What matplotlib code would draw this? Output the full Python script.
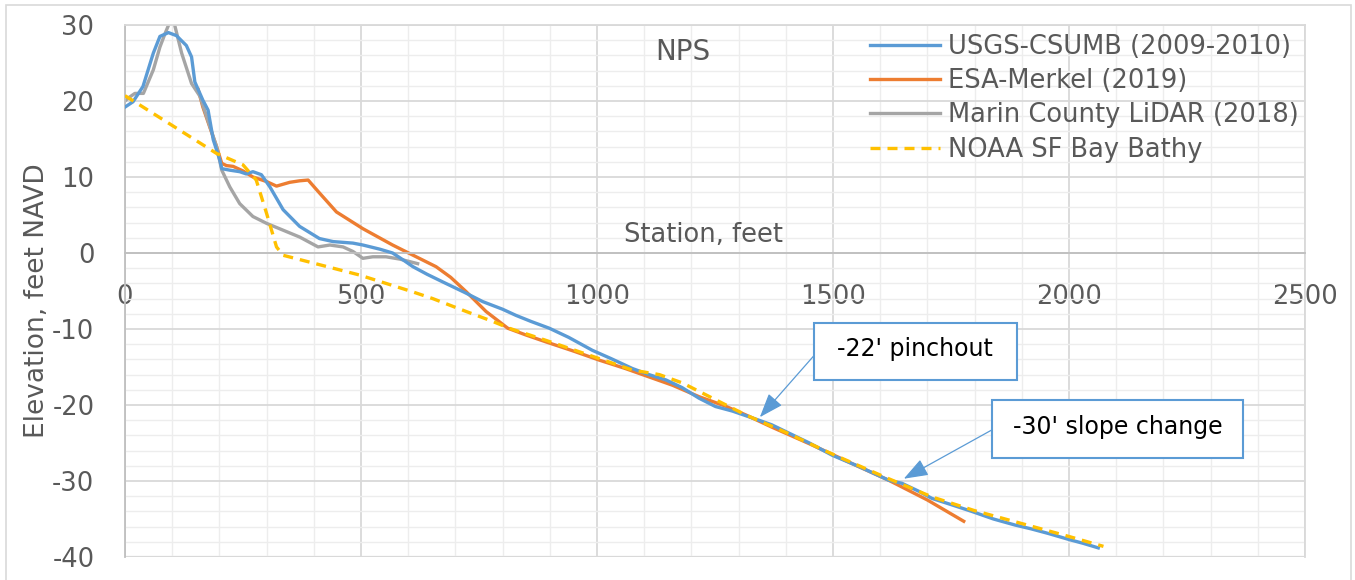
import matplotlib
matplotlib.use("Agg")
import matplotlib.pyplot as plt
from matplotlib.ticker import MultipleLocator
from matplotlib.patches import Rectangle

# ---- profile data (station in feet, elevation in feet NAVD) ----
usgs_x = [0, 17, 38, 60, 74, 92, 109, 130, 141, 148, 165, 176, 187, 201, 205, 222,
          243, 257, 271, 289, 307, 335, 370, 412, 441, 483, 504, 540, 567, 589, 610,
          640, 673, 720, 758, 800, 828, 860, 899, 940, 990, 1030, 1075, 1110, 1146,
          1180, 1216, 1251, 1287, 1315, 1343, 1370, 1400, 1450, 1498, 1555, 1618,
          1646, 1680, 1710, 1750, 1794, 1840, 1886, 1920, 1956, 2000, 2030, 2062]
usgs_y = [19.2, 19.9, 21.9, 26.3, 28.5, 29.0, 28.6, 27.3, 25.8, 22.5, 20.1, 18.8,
          14.9, 12.2, 11.1, 10.9, 10.7, 10.4, 10.7, 10.3, 8.7, 5.7, 3.5, 1.9, 1.5,
          1.3, 1.05, 0.5, 0.0, -0.9, -1.8, -2.8, -3.8, -5.2, -6.4, -7.4, -8.2, -9.0,
          -9.9, -11.1, -12.8, -13.9, -15.2, -16.0, -16.7, -17.7, -19.1, -20.2, -20.8,
          -21.4, -22.0, -22.6, -23.5, -25.0, -26.6, -28.1, -29.9, -30.3, -31.3,
          -32.3, -33.1, -34.0, -35.0, -35.8, -36.3, -36.9, -37.7, -38.2, -38.8]

esa_x = [155, 165, 180, 194, 205, 215, 229, 250, 271, 300, 321, 349, 370, 388, 412,
         448, 504, 567, 617, 659, 690, 723, 765, 811, 850, 892, 950, 1005, 1060, 1110,
         1160, 1216, 1270, 1315, 1370, 1450, 1540, 1618, 1700, 1777]
esa_y = [21.5, 19.2, 16.5, 14.0, 11.8, 11.5, 11.4, 10.8, 10.0, 9.4, 8.8, 9.3, 9.5,
         9.6, 7.9, 5.4, 3.2, 1.05, -0.5, -1.8, -3.2, -5.1, -7.7, -9.9, -10.8, -11.7,
         -12.9, -14.1, -15.2, -16.3, -17.4, -18.9, -20.1, -21.3, -22.9, -25.1, -27.7,
         -29.9, -32.5, -35.3]

lidar_x = [0, 7, 21, 39, 60, 74, 85, 95, 100, 106, 120, 141, 159, 180, 194, 205, 222,
           243, 271, 300, 335, 370, 409, 434, 462, 483, 504, 525, 553, 582, 620]
lidar_y = [20.0, 20.4, 21.0, 21.0, 24.1, 27.1, 28.9, 30.4, 31.5, 29.8, 26.3, 22.3,
           20.6, 16.6, 14.0, 10.9, 8.7, 6.5, 4.8, 3.9, 3.0, 2.1, 0.8, 1.05, 0.8, 0.2,
           -0.7, -0.5, -0.5, -0.8, -1.4]

noaa_x = [0, 194, 250, 278, 300, 321, 335, 497, 609, 652, 723, 779, 814, 892, 1005,
          1075, 1132, 1181, 1251, 1315, 1400, 1500, 1618, 1710, 1800, 1900, 2000, 2073]
noaa_y = [20.7, 13.1, 11.6, 9.6, 5.2, 0.8, -0.3, -2.9, -5.1, -6.0, -7.7, -9.0, -9.9,
          -11.5, -13.9, -15.4, -16.0, -17.1, -19.3, -21.3, -23.6, -26.5, -29.7, -32.1,
          -33.9, -35.6, -37.3, -38.6]

series_names = ["USGS-CSUMB (2009-2010)", "ESA-Merkel (2019)",
                "Marin County LiDAR (2018)", "NOAA SF Bay Bathy"]
x_ticks = [0, 500, 1000, 1500, 2000, 2500]
y_ticks = [30, 20, 10, 0, -10, -20, -30, -40]

# ---- styling ----
plt.rcParams["font.family"] = ["DejaVu Sans"]
plt.rcParams["axes.unicode_minus"] = False
TXT = "#595959"
BLUE = "#5B9BD5"
ORANGE = "#ED7D31"
GRAY = "#A5A5A5"
GOLD = "#FFC000"
FS = 18.5

fig = plt.figure(figsize=(13.55, 5.8), dpi=100)
fig.patches.append(Rectangle((6 / 1355, -0.05), 1345 / 1355, 1.05 - 5 / 580,
                             transform=fig.transFigure, fill=False,
                             edgecolor="#D9D9D9", linewidth=1.2))
ax = fig.add_axes([125 / 1355, 23 / 580, 1180 / 1355, 532 / 580])

ax.set_xlim(0, 2500)
ax.set_ylim(-40, 30)
ax.xaxis.set_minor_locator(MultipleLocator(100))
ax.yaxis.set_minor_locator(MultipleLocator(2))
ax.set_xticks(x_ticks)
ax.set_yticks(y_ticks)
ax.grid(which="minor", color="#EDEDED", linewidth=1.0)
ax.grid(which="major", color="#D9D9D9", linewidth=1.3)
ax.set_axisbelow(True)

for side in ("top", "right"):
    ax.spines[side].set_color("#D9D9D9")
    ax.spines[side].set_linewidth(1.3)
ax.spines["left"].set_color("#BFBFBF")
ax.spines["left"].set_linewidth(1.3)
ax.spines["bottom"].set_position(("data", 0))
ax.spines["bottom"].set_color("#BFBFBF")
ax.spines["bottom"].set_linewidth(1.3)
ax.axhline(-40, color="#D9D9D9", linewidth=1.6, zorder=0.5)

ax.tick_params(which="both", length=0)
ax.tick_params(axis="x", pad=22, labelsize=FS, labelcolor=TXT)
ax.tick_params(axis="y", pad=22, labelsize=FS, labelcolor=TXT)

ax.set_ylabel("Elevation, feet NAVD", fontsize=19, color=TXT)
ax.yaxis.label.set_verticalalignment("center")
ax.yaxis.set_label_coords(-88 / 1180, 256 / 532)
ax.text(0.49, 0.605, "Station, feet", transform=ax.transAxes, fontsize=FS,
        color=TXT, ha="center", va="center")
ax.text(0.473, 0.95, "NPS", transform=ax.transAxes, fontsize=20,
        color=TXT, ha="center", va="center")

lw = 2.4
ax.plot(usgs_x, usgs_y, color=BLUE, lw=lw, label=series_names[0], zorder=3)
ax.plot(esa_x, esa_y, color=ORANGE, lw=lw, label=series_names[1], zorder=2)
ax.plot(lidar_x, lidar_y, color=GRAY, lw=lw, label=series_names[2], zorder=2.5)
ax.plot(noaa_x, noaa_y, color=GOLD, lw=lw, ls=(0, (3.0, 2.1)),
        label=series_names[3], zorder=3.5)

leg = ax.legend(loc="upper left", bbox_to_anchor=(745 / 1180, 0.983), frameon=False,
                fontsize=FS, handlelength=2.72, handletextpad=0.31,
                labelspacing=0.32, borderaxespad=0.0, borderpad=0.0)
for t in leg.get_texts():
    t.set_color(TXT)

# callout boxes with arrows
callouts = [
    ("-22' pinchout", (1459, -16.7), 430, 7.5, (1345, -21.6), (1459, -13.55)),
    ("-30' slope change", (1836, -27.0), 533, 7.7, (1650, -29.7), (1836, -23.3)),
]
for text, (bx, by), bw, bh, tip, tail in callouts:
    ax.add_patch(Rectangle((bx, by), bw, bh, facecolor="white", edgecolor=BLUE,
                           linewidth=1.5, zorder=5))
    ax.text(bx + bw / 2, by + bh / 2 + 0.3, text, fontsize=17, color="black",
            ha="center", va="center", zorder=6)
    ax.annotate("", xy=tip, xytext=tail, zorder=6,
                arrowprops=dict(arrowstyle="-|>,head_length=1.5,head_width=0.55",
                                color=BLUE, lw=0.9, shrinkA=0, shrinkB=0))

fig.savefig("out.png", dpi=100)
